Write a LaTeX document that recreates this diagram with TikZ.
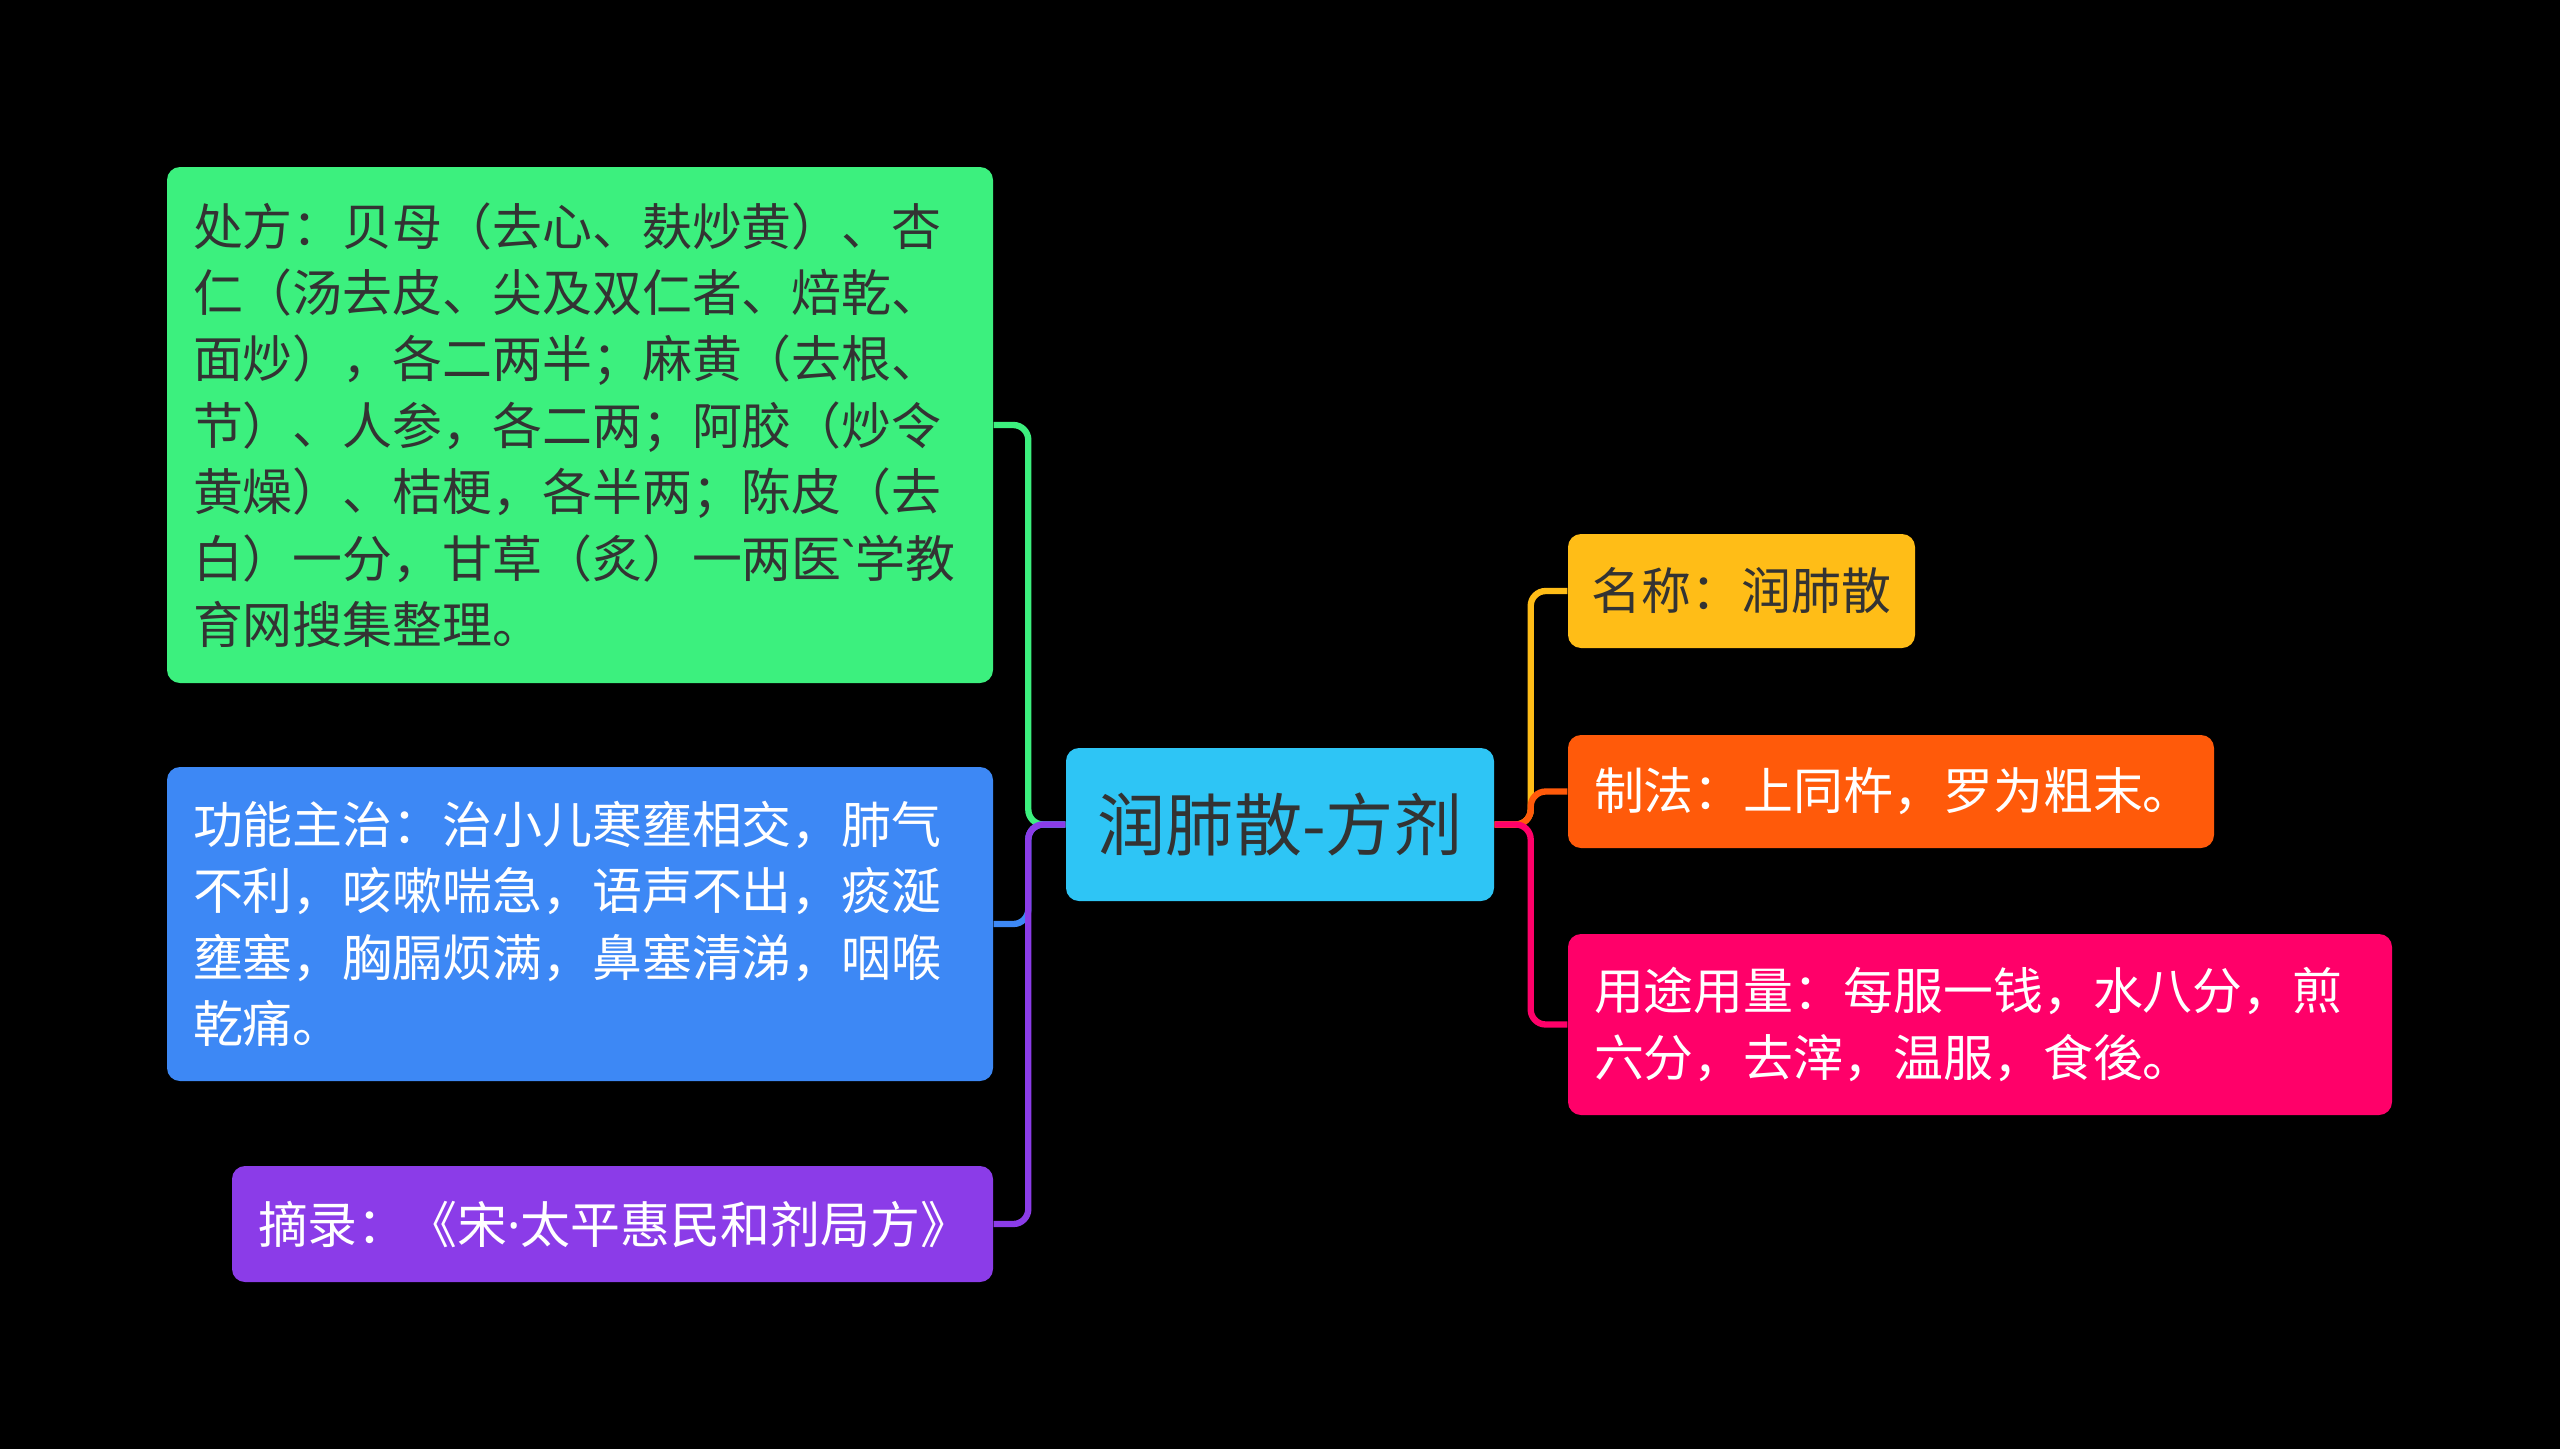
\documentclass[tikz,border=0pt]{standalone}
\usepackage{fontspec}
\newfontfamily\cjk{Noto Sans CJK SC}
\newfontfamily\latinfont{Noto Sans}

\definecolor{rootblue}{HTML}{2EC5F5}
\definecolor{recipegreen}{HTML}{3CF07E}
\definecolor{usageblue}{HTML}{3D88F5}
\definecolor{sourcepurple}{HTML}{8B3CE8}
\definecolor{nameyellow}{HTML}{FFBD17}
\definecolor{methodorange}{HTML}{FF5A0A}
\definecolor{dosagepink}{HTML}{FF0069}
\definecolor{darktext}{HTML}{333333}

\tikzset{
  box/.style={rounded corners=0.13cm, inner xsep=0.26cm, inner ysep=0pt,
    align=left, text=darktext, font=\cjk\fontsize{14.2}{18.9}\selectfont},
  link/.style={line width=1.8pt, rounded corners=0.15cm},
}

\begin{document}
\begin{tikzpicture}
\useasboundingbox (0,0) rectangle (25.6,-14.49);
\fill[black] (0,0) rectangle (25.6,-14.49);

\node[box, fill=rootblue, align=center, text width=3.76cm, minimum height=1.53cm,
  font=\cjk\fontsize{19.4}{23}\selectfont] (root) at (12.80,-8.245) {润肺散-方剂};

\node[box, fill=recipegreen, text width=7.74cm, minimum height=5.16cm] (recipe) at (5.80,-4.25)
  {处方：贝母（去心、麸炒黄）、杏\\
   仁（汤去皮、尖及双仁者、焙乾、\\
   面炒），各二两半；麻黄（去根、\\
   节）、人参，各二两；阿胶（炒令\\
   黄燥）、桔梗，各半两；陈皮（去\\
   白）一分，甘草（炙）一两医{\latinfont\char"60}学教\\
   育网搜集整理。};
\node[box, fill=usageblue, text=white, text width=7.74cm, minimum height=3.14cm] (usage) at (5.80,-9.24)
  {功能主治：治小儿寒壅相交，肺气\\
   不利，咳嗽喘急，语声不出，痰涎\\
   壅塞，胸膈烦满，鼻塞清涕，咽喉\\
   乾痛。};
\node[box, fill=sourcepurple, text=white, text width=7.09cm, minimum height=1.16cm] (source) at (6.125,-12.24)
  {摘录：《宋{\latinfont ·}太平惠民和剂局方》};

\node[box, fill=nameyellow, inner xsep=0.235cm, text width=3.0cm, minimum height=1.14cm] (name) at (17.415,-5.91)
  {名称：润肺散};
\node[box, fill=methodorange, text=white, text width=5.94cm, minimum height=1.13cm] (method) at (18.91,-7.915)
  {制法：上同杵，罗为粗末。};
\node[box, fill=dosagepink, text=white, text width=7.72cm, minimum height=1.81cm] (dosage) at (19.80,-10.245)
  {用途用量：每服一钱，水八分，煎\\
   六分，去滓，温服，食後。};

\draw[link, recipegreen] (root.west) -- ++(-0.37,0) |- (recipe.east);
\draw[link, usageblue] (root.west) -- ++(-0.37,0) |- (usage.east);
\draw[link, sourcepurple] (root.west) -- ++(-0.37,0) |- (source.east);

\draw[link, nameyellow] (root.east) -- ++(0.36,0) |- (name.west);
\draw[link, methodorange] (root.east) -- ++(0.36,0) |- (method.west);
\draw[link, dosagepink] (root.east) -- ++(0.36,0) |- (dosage.west);
\end{tikzpicture}
\end{document}
